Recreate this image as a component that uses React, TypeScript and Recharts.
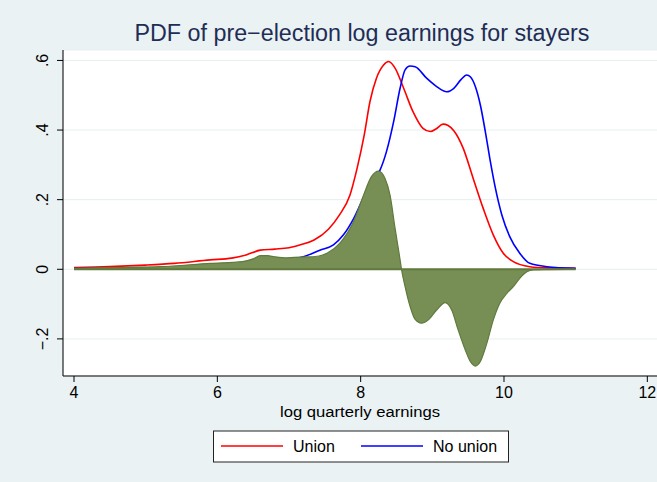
import React from "react";
import { ComposedChart, Line, Area, XAxis, YAxis, CartesianGrid } from "recharts";

// log quarterly earnings (x) and densities
const unionX = [4.0, 4.5, 5.0, 5.4, 5.9, 6.2, 6.4, 6.6, 6.8, 7.0, 7.15, 7.35, 7.55, 7.7, 7.85, 7.95, 8.05, 8.13, 8.22, 8.32, 8.39, 8.48, 8.6, 8.73, 8.87, 8.97, 9.05, 9.15, 9.22, 9.3, 9.43, 9.57, 9.71, 9.85, 9.99, 10.13, 10.36, 10.6, 11.0];
const unionY = [0.005, 0.0075, 0.012, 0.017, 0.027, 0.032, 0.041, 0.055, 0.058, 0.062, 0.07, 0.084, 0.115, 0.155, 0.213, 0.29, 0.386, 0.482, 0.549, 0.587, 0.597, 0.578, 0.52, 0.453, 0.405, 0.396, 0.403, 0.417, 0.413, 0.398, 0.348, 0.261, 0.175, 0.099, 0.046, 0.022, 0.0075, 0.004, 0.003];

const noUnionX = [4.0, 4.5, 5.0, 5.5, 6.0, 6.4, 6.6, 6.8, 7.0, 7.2, 7.43, 7.62, 7.76, 7.9, 8.04, 8.18, 8.27, 8.36, 8.46, 8.55, 8.62, 8.69, 8.76, 8.92, 9.06, 9.2, 9.3, 9.4, 9.48, 9.53, 9.6, 9.67, 9.74, 9.81, 9.88, 9.97, 10.08, 10.22, 10.36, 10.6, 11.0];
const noUnionY = [0.002, 0.003, 0.004, 0.005, 0.009, 0.012, 0.015, 0.02, 0.027, 0.036, 0.055, 0.07, 0.099, 0.145, 0.205, 0.255, 0.285, 0.338, 0.424, 0.52, 0.573, 0.584, 0.582, 0.549, 0.525, 0.51, 0.52, 0.545, 0.558, 0.553, 0.525, 0.472, 0.395, 0.309, 0.233, 0.156, 0.094, 0.046, 0.017, 0.0075, 0.003];

const diffX = [4.0, 4.5, 5.2, 5.9, 6.35, 6.5, 6.6, 6.7, 6.8, 6.97, 7.15, 7.34, 7.53, 7.71, 7.9, 8.04, 8.15, 8.25, 8.34, 8.41, 8.48, 8.54, 8.57, 8.62, 8.69, 8.76, 8.85, 8.94, 9.06, 9.18, 9.27, 9.36, 9.46, 9.53, 9.6, 9.67, 9.76, 9.85, 9.94, 10.04, 10.13, 10.22, 10.32, 10.41, 10.6, 11.0];
const diffY = [0.003, 0.005, 0.0075, 0.017, 0.022, 0.03, 0.039, 0.039, 0.036, 0.033, 0.035, 0.036, 0.046, 0.075, 0.137, 0.213, 0.266, 0.282, 0.261, 0.213, 0.118, 0.041, 0, -0.05, -0.107, -0.144, -0.155, -0.146, -0.117, -0.096, -0.117, -0.174, -0.232, -0.265, -0.278, -0.265, -0.213, -0.146, -0.098, -0.069, -0.05, -0.026, -0.007, -0.002, -0.001, 0];

const zeroX = [4.0, 11.0];
const zeroY = [0, 0];

const xTicks = [4, 6, 8, 10, 12];
const xTickLabels = ["4", "6", "8", "10", "12"];
const yTicks = [-0.2, 0, 0.2, 0.4, 0.6];
const yTickLabels = ["\u2212.2", "0", ".2", ".4", ".6"];

const titleText = "PDF of pre\u2212election log earnings for stayers";
const xAxisTitle = "log quarterly earnings";
const seriesNames = ["Union", "No union"];

const zip = (xs: number[], ys: number[]) => xs.map((x, i) => ({ x, y: ys[i] }));
const unionData = zip(unionX, unionY);
const noUnionData = zip(noUnionX, noUnionY);
const diffData = zip(diffX, diffY);
const zeroData = zip(zeroX, zeroY);

const FONT = "'Liberation Sans', Arial, Helvetica, sans-serif";

const YTick = (props: any) => {
  const { y, payload } = props;
  const idx = yTicks.indexOf(payload.value);
  const label = idx >= 0 ? yTickLabels[idx] : String(payload.value);
  return (
    <text
      x={43}
      y={y}
      transform={`rotate(-90, 43, ${y})`}
      textAnchor="middle"
      dominantBaseline="central"
      fontSize={16}
      fontFamily={FONT}
      fill="#000"
    >
      {label}
    </text>
  );
};

const XTick = (props: any) => {
  const { x, payload } = props;
  const idx = xTicks.indexOf(payload.value);
  const label = idx >= 0 ? xTickLabels[idx] : String(payload.value);
  return (
    <text x={x} y={398} textAnchor="middle" fontSize={16} fontFamily={FONT} fill="#000">
      {label}
    </text>
  );
};

export default function App() {
  return (
    <div style={{ position: "absolute", left: 0, top: 0, width: 657, height: 482, background: "#EAF2F3", overflow: "hidden" }}>
      <ComposedChart width={657} height={482} margin={{ top: 50, right: 0, bottom: 66, left: 0 }}>
        <CartesianGrid vertical={false} horizontal={true} stroke="#E6EEF0" fill="#FFFFFF" fillOpacity={1} />
        <XAxis
          type="number"
          dataKey="x"
          domain={[3.8465, 12.135]}
          ticks={xTicks}
          allowDataOverflow
          height={40}
          stroke="#000"
          tickSize={6}
          tick={<XTick />}
          tickLine={{ stroke: "#000" }}
          axisLine={{ stroke: "#000", strokeWidth: 1.2 }}
        />
        <YAxis
          type="number"
          dataKey="y"
          domain={[-0.3066, 0.63]}
          ticks={yTicks}
          allowDataOverflow
          width={63}
          tickSize={6}
          tick={<YTick />}
          tickLine={{ stroke: "#000" }}
          axisLine={{ stroke: "#222", strokeWidth: 1.2 }}
        />
        <Line data={unionData} dataKey="y" type="monotone" stroke="#FF0000" strokeWidth={1.6} dot={false} isAnimationActive={false} name={seriesNames[0]} zIndex={300} />
        <Line data={noUnionData} dataKey="y" type="monotone" stroke="#0000FF" strokeWidth={1.6} dot={false} isAnimationActive={false} name={seriesNames[1]} zIndex={300} />
        <Area data={diffData} dataKey="y" type="monotone" baseValue={0} fill="#778F55" fillOpacity={1} stroke="#5F7A3C" strokeWidth={1.2} dot={false} isAnimationActive={false} zIndex={600} />
        <Line data={zeroData} dataKey="y" type="linear" stroke="#5F7A3C" strokeWidth={2} dot={false} isAnimationActive={false} zIndex={650} />
      </ComposedChart>
      <svg width={657} height={482} style={{ position: "absolute", left: 0, top: 0, pointerEvents: "none" }}>
        <text x={362} y={41} textAnchor="middle" fontSize={23} fontFamily={FONT} fill="#1F2D56" textLength={455} lengthAdjust="spacingAndGlyphs">
          {titleText}
        </text>
        <text x={360} y={416.5} textAnchor="middle" fontSize={15.5} fontFamily={FONT} fill="#000" textLength={160} lengthAdjust="spacingAndGlyphs">
          {xAxisTitle}
        </text>
        <rect x={213.5} y={431} width={295} height={31} fill="#FFFFFF" stroke="#222" strokeWidth={1} />
        <line x1={221} x2={283} y1={446} y2={446} stroke="#FF0000" strokeWidth={1.6} />
        <text x={293} y={452.3} fontSize={16} fontFamily={FONT} fill="#000">{seriesNames[0]}</text>
        <line x1={361} x2={423} y1={446} y2={446} stroke="#0000FF" strokeWidth={1.6} />
        <text x={433} y={452.3} fontSize={16} fontFamily={FONT} fill="#000">{seriesNames[1]}</text>
      </svg>
    </div>
  );
}
